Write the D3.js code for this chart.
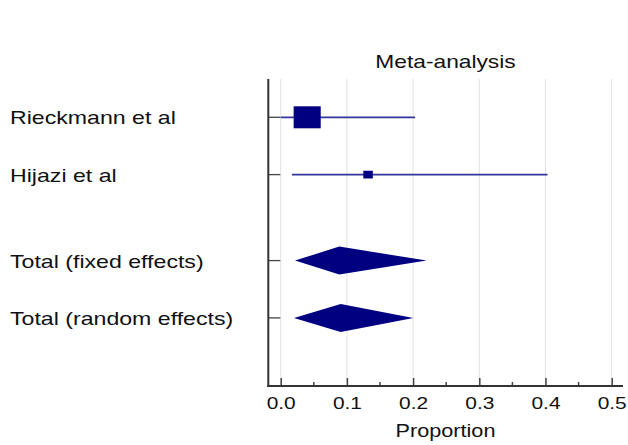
<!DOCTYPE html>
<html>
<head>
<meta charset="utf-8">
<script src="https://cdn.jsdelivr.net/npm/d3@7"></script>
<style>
  html, body { margin: 0; padding: 0; background: #fff; }
  svg { display: block; font-family: "Liberation Sans", Arial, sans-serif; }
</style>
</head>
<body>
<svg id="chart" width="628" height="445"></svg>
<script>
// Forest plot data: individual studies and pooled estimates (proportions)
const studyNames = ["Rieckmann et al", "Hijazi et al"];
const studyEst = [0.040, 0.132];
const studyLow = [0.000, 0.017];
const studyHigh = [0.203, 0.403];
const studyWeight = [89, 11];

const poolNames = ["Total (fixed effects)", "Total (random effects)"];
const poolEst = [0.0885, 0.0906];
const poolLow = [0.0216, 0.0201];
const poolHigh = [0.2205, 0.2003];

const xTicks = [0, 0.1, 0.2, 0.3, 0.4, 0.5];
const xMinorTicks = [0.05, 0.15, 0.25, 0.35, 0.45];
const rowPos = [0, 1, 2.5, 3.5];

const navy = "#000080";
const sx = 1.23;      // horizontal text stretch
const sxLabel = 1.25; // stretch for row labels

const svg = d3.select("#chart");

const x = d3.scaleLinear().domain([0, 0.5]).range([280.7, 611.7]);
const y = d3.scaleLinear().domain([0, 3.5]).range([117.3, 317.9]);
const size = d3.scaleSqrt().domain([0, d3.max(studyWeight)]).range([0, 22]);

const frameLeft = 268.3, frameRight = 623, frameTop = 79, frameBottom = 386;

// vertical gridlines
svg.append("g").selectAll("line").data(xTicks).join("line")
  .attr("x1", d => x(d)).attr("x2", d => x(d))
  .attr("y1", frameTop).attr("y2", frameBottom)
  .attr("stroke", "#e2e2e2").attr("stroke-width", 1);

// bottom axis
const xAxis = svg.append("g").attr("transform", `translate(0,${frameBottom})`);
xAxis.call(d3.axisBottom(x).tickValues(xTicks).tickFormat(d3.format(".1f"))
  .tickSizeInner(-8).tickSizeOuter(0).tickPadding(11));
xAxis.select(".domain").remove();
xAxis.selectAll(".tick line").attr("stroke", "#444").attr("stroke-width", 1.5);
xAxis.selectAll(".tick text")
  .attr("font-size", 17).attr("font-family", "Liberation Sans, Arial, sans-serif")
  .attr("fill", "#111").attr("transform", `scale(${sx},1)`);
xAxis.selectAll(".minor").data(xMinorTicks).join("line")
  .attr("class", "minor")
  .attr("x1", d => x(d)).attr("x2", d => x(d))
  .attr("y1", 0).attr("y2", -4)
  .attr("stroke", "#444").attr("stroke-width", 1.5);

// left axis ticks
svg.append("g").selectAll("line").data(rowPos).join("line")
  .attr("x1", frameLeft).attr("x2", frameLeft + 12)
  .attr("y1", d => y(d)).attr("y2", d => y(d))
  .attr("stroke", "#444").attr("stroke-width", 1.3);

// frame lines
svg.append("line").attr("x1", frameLeft).attr("x2", frameLeft)
  .attr("y1", frameTop).attr("y2", frameBottom + 1)
  .attr("stroke", "#333").attr("stroke-width", 2);
svg.append("line").attr("x1", frameLeft - 1).attr("x2", frameRight)
  .attr("y1", frameBottom).attr("y2", frameBottom)
  .attr("stroke", "#333").attr("stroke-width", 2);

// study confidence intervals and weighted squares
const studies = studyNames.map((n, i) => ({
  name: n, est: studyEst[i], lo: studyLow[i], hi: studyHigh[i], w: studyWeight[i], pos: rowPos[i]
}));
const sg = svg.append("g");
sg.selectAll("line").data(studies).join("line")
  .attr("x1", d => x(d.lo)).attr("x2", d => x(d.hi))
  .attr("y1", d => y(d.pos)).attr("y2", d => y(d.pos))
  .attr("stroke", "#34349c").attr("stroke-width", 1.7);
sg.selectAll("rect").data(studies).join("rect")
  .attr("x", d => x(d.est) - size(d.w) * sx / 2)
  .attr("y", d => y(d.pos) - size(d.w) / 2)
  .attr("width", d => size(d.w) * sx)
  .attr("height", d => size(d.w))
  .attr("fill", navy);

// pooled estimates as diamonds
const pools = poolNames.map((n, i) => ({
  name: n, est: poolEst[i], lo: poolLow[i], hi: poolHigh[i], pos: rowPos[i + 2]
}));
svg.append("g").selectAll("path").data(pools).join("path")
  .attr("d", d => {
    const cy = y(d.pos), h = 14;
    return `M${x(d.lo)},${cy}L${x(d.est)},${cy - h}L${x(d.hi)},${cy}L${x(d.est)},${cy + h}Z`;
  })
  .attr("fill", navy);

// row labels
const labels = studyNames.concat(poolNames);
svg.append("g").selectAll("text").data(labels).join("text")
  .attr("transform", (d, i) => `translate(10,${y(rowPos[i]) + 7}) scale(${sxLabel},1)`)
  .attr("font-size", 18.5).attr("fill", "#111")
  .text(d => d);

// title and axis title
svg.append("text")
  .attr("transform", `translate(445.5,68.3) scale(${sx},1)`)
  .attr("text-anchor", "middle").attr("font-size", 18.5).attr("fill", "#111")
  .text("Meta-analysis");
svg.append("text")
  .attr("transform", `translate(445.5,436.7) scale(${sx},1)`)
  .attr("text-anchor", "middle").attr("font-size", 17.6).attr("fill", "#111")
  .text("Proportion");
</script>
</body>
</html>
